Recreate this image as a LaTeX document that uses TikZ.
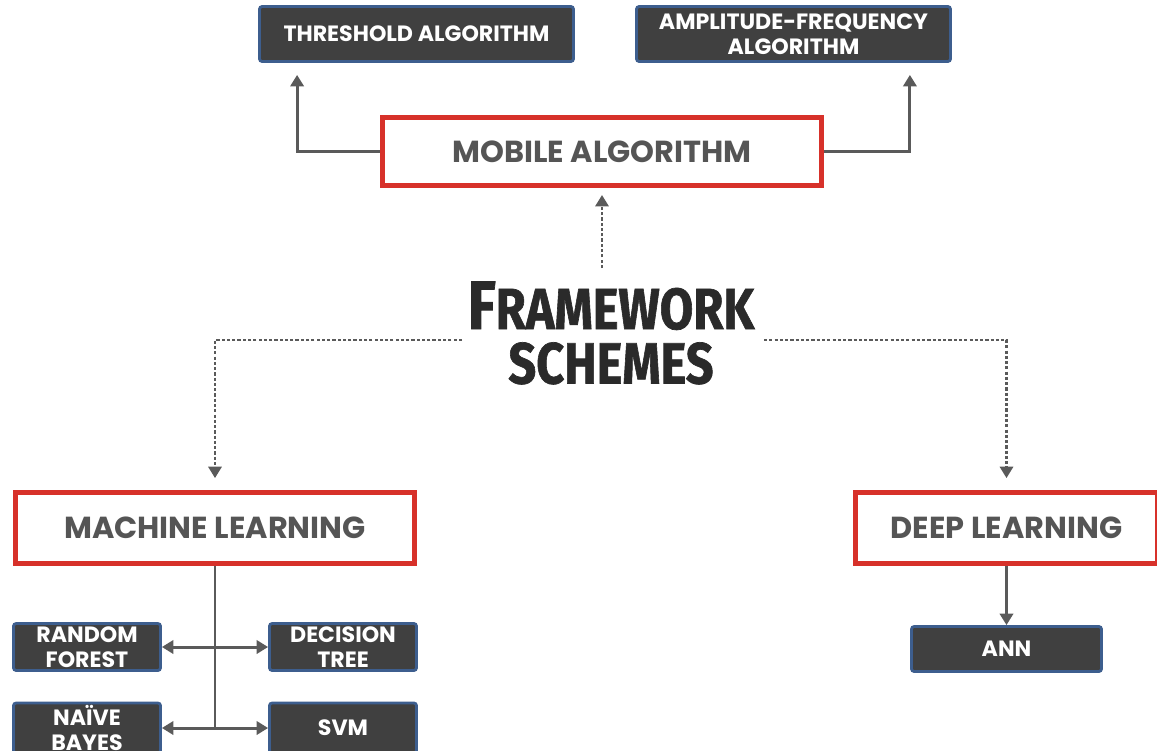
\documentclass[tikz,border=0pt]{standalone}
\usepackage{fontspec}
\setmainfont{Poppins}
\newfontfamily\titlefont{Fira Sans}[BoldFeatures={FakeBold=1.2}]
\usetikzlibrary{arrows.meta,calc}

\definecolor{boxdark}{HTML}{404040}
\definecolor{boxblue}{HTML}{3D5E8E}
\definecolor{framered}{HTML}{D7312A}
\definecolor{labelgrey}{HTML}{555555}
\definecolor{linegrey}{HTML}{5A5A5A}
\definecolor{titleink}{HTML}{2A2A2A}

\tikzset{
  boxsize/.style 2 args={minimum width=#1*0.02cm, minimum height=#2*0.02cm},
  redbox/.style={draw=framered, line width=2.8pt, fill=white, text=labelgrey,
    font=\bfseries\fontsize{17.3}{20}\selectfont, inner sep=0pt},
  darkbox/.style={draw=boxblue, line width=1.6pt, fill=boxdark, text=white,
    rounded corners=1.5pt, font=\bfseries\fontsize{12.6}{14.3}\selectfont,
    align=center, inner sep=0pt},
  tip/.tip={Triangle[width=7.5pt,length=6.5pt]},
  arr/.style={draw=linegrey, line width=1.7pt, -tip},
  dualarr/.style={draw=linegrey, line width=1.7pt, tip-tip},
  trunk/.style={draw=linegrey, line width=1.7pt},
  dotarr/.style={draw=linegrey, line width=1.5pt, dash pattern=on 1.8pt off 1.2pt, -tip},
}

\begin{document}
\begin{tikzpicture}[x=0.02cm, y=-0.02cm]
\useasboundingbox (0,0) rectangle (1157,751);
\clip (0,0) rectangle (1157,751);

% top: mobile algorithm branch
\node[darkbox, boxsize={314}{55}] (thr) at (416.5,34) {THRESHOLD ALGORITHM};
\node[darkbox, boxsize={314}{55}] (amp) at (793.5,34) {AMPLITUDE-FREQUENCY\\ALGORITHM};
\node[redbox, boxsize={439}{68}] (mob) at (602,151.5) {MOBILE ALGORITHM};

% central title
\node[text=titleink, align=center, inner sep=0pt,
      font=\titlefont\bfseries\fontsize{33}{31}\selectfont] (fw) at (611,333)
  {\scalebox{0.84}[1]{{\fontsize{39}{31}\selectfont F}RAMEWORK}\\
   \scalebox{0.84}[1]{SCHEMES}};

% second level
\node[redbox, boxsize={399}{71}] (ml) at (215,528) {MACHINE LEARNING};
\node[redbox, boxsize={302}{71}] (dl) at (1006.5,528) {DEEP LEARNING};

% leaves
\node[darkbox, boxsize={190}{45}] (ann) at (1006.5,649) {ANN};
\node[darkbox, boxsize={147}{47}] (rf) at (87,647) {RANDOM\\FOREST};
\node[darkbox, boxsize={147}{47}] (dt) at (343,647) {DECISION\\TREE};
\node[darkbox, boxsize={147}{50}] (nb) at (87,728) {NAÏVE\\BAYES};
\node[darkbox, boxsize={147}{50}] (svm) at (343,728) {SVM};

% free ends of connectors
\coordinate (thrIn) at ($(thr.south west)+(39,12)$);
\coordinate (ampIn) at ($(amp.south east)+(-42,12)$);
\coordinate (fwTop) at (602,268);
\coordinate (fwL) at (462,340);
\coordinate (fwR) at (764,340);
\coordinate (mlJoin) at (ml.south |- nb.east);

% connectors
\draw[arr] (mob.west) -| (thrIn);
\draw[arr] (mob.east) -| (ampIn);
\draw[dotarr, shorten >=4pt] (fwTop) -- (mob);
\draw[dotarr, shorten >=6.8pt] (fwL) -| (ml);
\draw[dotarr, shorten >=6.8pt] (fwR) -| (dl);
\draw[arr] (dl) -- (ann);
\draw[trunk] (ml.south) -- (mlJoin);
\draw[dualarr] (rf) -- (dt);
\draw[dualarr] (nb) -- (svm);
\end{tikzpicture}
\end{document}
